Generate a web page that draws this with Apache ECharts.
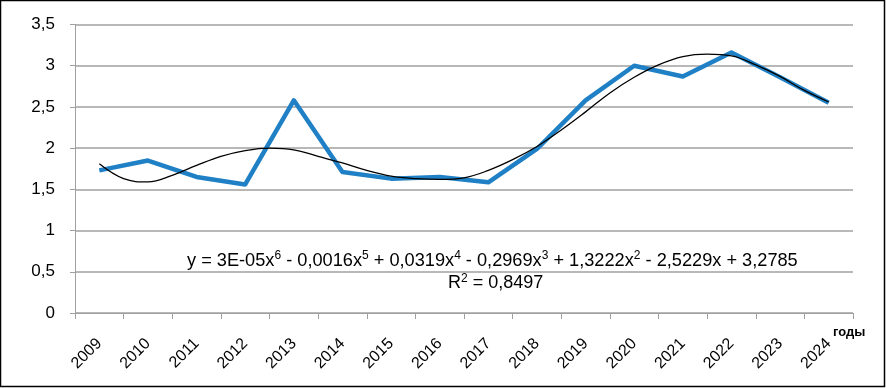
<!DOCTYPE html>
<html><head><meta charset="utf-8">
<script src="https://cdn.jsdelivr.net/npm/echarts@6/dist/echarts.min.js"></script>
<style>html,body{margin:0;padding:0;background:#fff}#c{width:886px;height:388px}</style>
</head><body><div id="c"></div>
<script>
const years = ['2009','2010','2011','2012','2013','2014','2015','2016','2017','2018','2019','2020','2021','2022','2023','2024'];
const values = [1.73,1.85,1.65,1.56,2.58,1.71,1.63,1.65,1.585,1.99,2.58,3.0,2.87,3.16,2.86,2.55];
const trendX = [1,1.5,2,2.5,3,3.5,4,4.5,5,5.5,6,6.5,7,7.5,8,8.5,9,9.5,10,10.5,11,11.5,12,12.5,13,13.5,14,14.5,15,15.5,16];
const trendY = [1.81,1.63,1.59,1.67,1.79,1.90,1.97,2.00,1.98,1.90,1.82,1.73,1.66,1.63,1.62,1.64,1.73,1.86,2.02,2.22,2.44,2.67,2.86,3.01,3.11,3.14,3.12,3.01,2.87,2.70,2.56];
const yTickLabels = {'0':'0','0.5':'0,5','1':'1','1.5':'1,5','2':'2','2.5':'2,5','3':'3','3.5':'3,5'};
const equationRich = 'y = 3E-05x{s|6} - 0,0016x{s|5} + 0,0319x{s|4} - 0,2969x{s|3} + 1,3222x{s|2} - 2,5229x + 3,2785';
const r2Rich = 'R{s|2} = 0,8497';
const axisName = 'годы';

const font = 'Liberation Sans, Arial, sans-serif';
const sup = {s: {fontSize: 12, verticalAlign: 'top', lineHeight: 20, fontFamily: font, fill: '#000'}};
const chart = echarts.init(document.getElementById('c'));
chart.setOption({
  animation: false,
  backgroundColor: '#fff',
  grid: {left: 75, right: 33, top: 24.5, bottom: 75},
  xAxis: [{
    type: 'category', data: years, boundaryGap: true,
    axisLine: {lineStyle: {color: '#a0a0a0', width: 1}},
    axisTick: {show: true, length: 6, alignWithLabel: false, lineStyle: {color: '#a0a0a0'}},
    axisLabel: {rotate: 45, margin: 28, color: '#000', fontSize: 16, fontFamily: font},
    splitLine: {show: false}
  }, {
    type: 'value', min: 0.5, max: 16.5, show: false, position: 'bottom'
  }],
  yAxis: {
    type: 'value', min: 0, max: 3.5, interval: 0.5,
    axisLine: {show: true, lineStyle: {color: '#a0a0a0', width: 1}},
    axisTick: {show: true, length: 5, lineStyle: {color: '#a0a0a0'}},
    axisLabel: {margin: 20, color: '#000', fontSize: 17, fontFamily: font,
      formatter: v => yTickLabels[String(v)] ?? String(v).replace('.', ',')},
    splitLine: {lineStyle: {color: '#a0a0a0', width: 1.5}}
  },
  series: [{
    type: 'line', xAxisIndex: 0, data: values, symbol: 'none',
    lineStyle: {color: '#1f80c6', width: 4.5, join: 'round'}, z: 2
  }, {
    type: 'line', xAxisIndex: 1, data: trendX.map((x, i) => [x, trendY[i]]),
    symbol: 'none', smooth: 0.4,
    lineStyle: {color: '#000', width: 1.3}, z: 3
  }],
  graphic: [
    {type: 'rect', shape: {x: 0.5, y: 0.5, width: 884, height: 386},
     style: {fill: 'none', stroke: '#000', lineWidth: 1.5}},
    {type: 'text', left: 187, top: 250, style: {text: equationRich, rich: sup, fill: '#000', fontSize: 18.2, lineHeight: 21, fontFamily: font}},
    {type: 'text', left: 448, top: 273, style: {text: r2Rich, rich: sup, fill: '#000', fontSize: 18, lineHeight: 21, fontFamily: font}},
    {type: 'text', left: 833, top: 326, style: {text: axisName, fill: '#000', fontSize: 13, fontWeight: 'bold', fontFamily: font}}
  ]
});
</script></body></html>
